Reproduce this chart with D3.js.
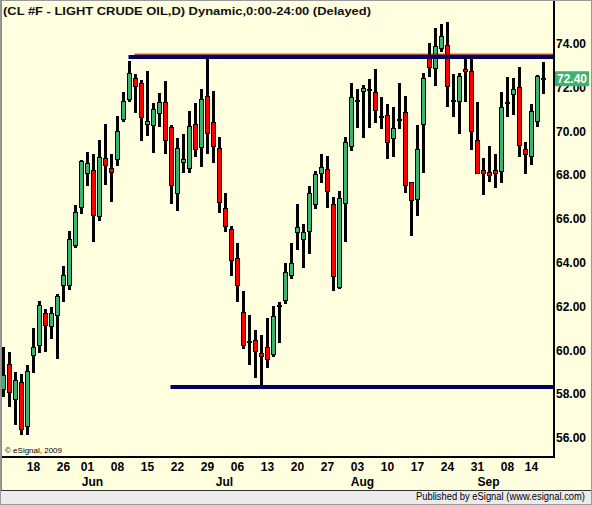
<!DOCTYPE html>
<html>
<head>
<meta charset="utf-8">
<script src="https://cdn.jsdelivr.net/npm/d3@7"></script>
<style>
  html, body { margin: 0; padding: 0; background: #fff; }
  svg { display: block; }
  text { font-family: "Liberation Sans", Arial, sans-serif; }
</style>
</head>
<body>
<svg id="chart" width="592" height="505"></svg>
<script>
// daily bars, CL #F, May 11 - Sep 16 2009
const dates = [
  "2009-05-11","2009-05-12","2009-05-13","2009-05-14","2009-05-15",
  "2009-05-18","2009-05-19","2009-05-20","2009-05-21","2009-05-22",
  "2009-05-26","2009-05-27","2009-05-28","2009-05-29",
  "2009-06-01","2009-06-02","2009-06-03","2009-06-04","2009-06-05",
  "2009-06-08","2009-06-09","2009-06-10","2009-06-11","2009-06-12",
  "2009-06-15","2009-06-16","2009-06-17","2009-06-18","2009-06-19",
  "2009-06-22","2009-06-23","2009-06-24","2009-06-25","2009-06-26",
  "2009-06-29","2009-06-30","2009-07-01","2009-07-02","2009-07-03",
  "2009-07-06","2009-07-07","2009-07-08","2009-07-09","2009-07-10",
  "2009-07-13","2009-07-14","2009-07-15","2009-07-16","2009-07-17",
  "2009-07-20","2009-07-21","2009-07-22","2009-07-23","2009-07-24",
  "2009-07-27","2009-07-28","2009-07-29","2009-07-30","2009-07-31",
  "2009-08-03","2009-08-04","2009-08-05","2009-08-06","2009-08-07",
  "2009-08-10","2009-08-11","2009-08-12","2009-08-13","2009-08-14",
  "2009-08-17","2009-08-18","2009-08-19","2009-08-20","2009-08-21",
  "2009-08-24","2009-08-25","2009-08-26","2009-08-27","2009-08-28",
  "2009-08-31","2009-09-01","2009-09-02","2009-09-03","2009-09-04",
  "2009-09-08","2009-09-09","2009-09-10","2009-09-11",
  "2009-09-14","2009-09-15","2009-09-16"
];
const open = [
  58.19,59.33,57.76,58.55,56.54, 59.77,60.23,61.69,61.08,61.57,
  62.94,62.97,64.79,66.54, 68.08,68.21,66.12,68.74,68.32,
  68.72,70.52,71.47,72.42,72.19, 70.31,70.27,70.82,71.32,70.18,
  67.17,68.58,68.31,70.32,69.27, 71.59,70.41,69.22,66.48,65.53,
  64.20,61.74,60.42,60.46,59.86, 60.14,59.82,62.03,62.27,63.42,
  65.39,65.08,65.42,66.66,68.08, 68.27,66.67,62.89,66.69,69.30,
  71.40,71.81,71.91,71.77,70.66, 70.74,69.68,70.53,70.88,67.67,
  66.88,70.29,73.32,72.88,73.79, 73.94,71.41,71.38,72.83,72.75,
  69.56,68.19,68.13,68.20,68.16, 71.33,71.66,72.02,69.15,
  68.84,70.44,72.41
];
const high = [
  60.14,59.92,59.01,58.92,59.33, 61.02,62.25,61.90,61.98,62.56,
  63.85,65.45,66.63,68.69, 69.05,68.96,69.60,70.33,68.96,
  70.70,71.79,73.19,72.62,72.34, 72.75,71.29,71.75,72.30,70.29,
  69.69,69.88,70.93,71.29,71.93, 73.37,71.84,69.73,67.18,65.68,
  64.90,62.71,61.61,60.93,60.70, 61.46,62.02,62.21,63.97,64.89,
  66.67,65.75,67.48,68.19,68.96, 68.87,66.99,67.27,69.73,72.21,
  71.91,72.10,72.39,72.84,71.57, 71.25,71.11,72.19,71.61,67.70,
  70.29,72.65,74.02,74.70,74.90, 75.00,72.62,72.65,73.33,73.33,
  71.32,68.77,69.34,68.95,71.78, 72.49,72.45,72.92,69.50,
  71.23,72.57,73.15
];
const low = [
  57.85,57.42,56.60,56.12,56.15, 58.98,59.89,59.92,60.53,59.59,
  62.21,62.75,64.68,66.24, 67.52,64.96,65.92,67.56,66.79,
  68.42,70.44,71.32,70.82,69.57, 69.80,69.02,70.21,68.95,66.68,
  66.37,68.08,68.11,68.84,68.38, 68.95,68.54,66.29,65.42,63.41,
  62.22,60.05,59.32,58.75,58.36, 59.18,59.68,60.33,62.10,63.24,
  64.58,63.77,64.41,66.47,67.63, 66.51,62.72,62.79,64.96,69.11,
  70.16,69.71,70.16,70.39,70.10, 68.72,68.84,70.09,67.17,65.23,
  66.15,68.08,72.49,72.05,73.60, 71.12,70.67,69.86,71.35,69.15,
  68.04,67.09,67.70,67.42,67.63, 70.67,70.74,68.84,68.04,
  68.46,70.21,71.70
];
const close = [
  58.87,58.08,58.63,56.39,59.04, 60.11,62.05,61.11,61.69,62.47,
  63.42,65.07,66.30,68.60, 68.54,66.16,68.81,68.45,68.13,
  70.01,71.34,72.65,72.05,70.62, 70.47,71.00,71.32,69.59,67.53,
  69.22,68.69,70.23,69.18,71.46, 69.91,69.32,66.76,65.64,64.11,
  62.95,60.20,60.40,59.94,59.72, 59.59,61.55,62.05,63.56,63.97,
  65.63,65.39,67.17,68.04,68.36, 67.25,63.36,66.95,69.47,71.55,
  71.42,71.97,71.89,70.96,70.62, 69.50,70.14,70.51,67.53,66.82,
  69.19,72.39,72.91,73.88,74.35, 72.05,71.39,72.49,72.74,69.98,
  68.08,68.08,68.00,68.08,71.08, 71.31,71.93,69.33,68.92,
  70.89,72.49,72.40
];

const yTicks = [56, 58, 60, 62, 64, 66, 68, 70, 72, 74];
const dateTicks = ["2009-05-18","2009-05-26","2009-06-01","2009-06-08","2009-06-15",
  "2009-06-22","2009-06-29","2009-07-06","2009-07-13","2009-07-20","2009-07-27",
  "2009-08-03","2009-08-10","2009-08-17","2009-08-24","2009-08-31","2009-09-08","2009-09-14"];
const dateTickLabels = ["18","26","01","08","15","22","29","06","13","20","27",
  "03","10","17","24","31","08","14"];
const monthTicks = ["2009-06-01","2009-07-01","2009-08-03","2009-09-01"];
const monthLabels = ["Jun","Jul","Aug","Sep"];

// drawn horizontal levels
const levelValues = [73.39, 73.52, 58.32];
const levelStart = ["2009-06-10", "2009-06-11", "2009-06-19"];
const lastPrice = 72.40;

const title = "(CL #F - LIGHT CRUDE OIL,D) Dynamic,0:00-24:00 (Delayed)";

const W = 592, H = 505;
const plot = {left: 2, right: 554, top: 0, bottom: 457};

const svg = d3.select("#chart");

const x = d3.scaleBand().domain(dates).range([0.5, 546.5]).padding(0);
const cx = d => x(d) + x.bandwidth() / 2;
const y = d3.scaleLinear().domain([56, 74]).range([437.9, 43.7]);

const bars = dates.map((d, i) => ({date: d, o: open[i], h: high[i], l: low[i], c: close[i]}));

// background
svg.append("rect").attr("width", W).attr("height", H).attr("fill", "#ffffe0");

svg.append("clipPath").attr("id", "plotclip")
  .append("rect")
  .attr("x", plot.left).attr("y", plot.top)
  .attr("width", plot.right - plot.left).attr("height", plot.bottom - plot.top);

const g = svg.append("g").attr("clip-path", "url(#plotclip)");

// wicks
g.append("g").attr("shape-rendering", "crispEdges")
  .selectAll("rect")
  .data(bars)
  .join("rect")
    .attr("x", d => cx(d.date) - 1.5)
    .attr("width", 3)
    .attr("y", d => y(d.h))
    .attr("height", d => y(d.l) - y(d.h))
    .attr("fill", "#000");

// bodies
g.append("g").attr("shape-rendering", "crispEdges")
  .selectAll("rect")
  .data(bars)
  .join("rect")
    .attr("x", d => cx(d.date) - 2)
    .attr("width", 4)
    .attr("y", d => y(Math.max(d.o, d.c)))
    .attr("height", d => Math.max(1, Math.abs(y(d.o) - y(d.c))))
    .attr("fill", d => d.c >= d.o ? "#3cb371" : "#ff0000")
    .attr("stroke", "#000")
    .attr("stroke-width", 1);

// levels
const levelColor = ["#00005e", "#8b0000", "#00005e"];
const levelWidth = [4, 1, 4];
levelValues.forEach((v, i) => {
  g.append("line")
    .attr("x1", cx(levelStart[i]) - 1)
    .attr("x2", plot.right)
    .attr("y1", y(v)).attr("y2", y(v))
    .attr("stroke", levelColor[i])
    .attr("stroke-width", levelWidth[i]);
});

// frame lines
svg.append("line")
  .attr("x1", plot.left).attr("x2", plot.right + 1)
  .attr("y1", plot.bottom).attr("y2", plot.bottom)
  .attr("stroke", "#000").attr("stroke-width", 2);
svg.append("line")
  .attr("x1", plot.right).attr("x2", plot.right)
  .attr("y1", 0).attr("y2", plot.bottom)
  .attr("stroke", "#000").attr("stroke-width", 2);

// price axis
const yAxis = svg.append("g")
  .attr("transform", `translate(${plot.right},0)`)
  .call(d3.axisRight(y).tickValues(yTicks).tickFormat(d3.format(".2f")).tickSize(0).tickPadding(2));
yAxis.select(".domain").remove();
yAxis.selectAll("text")
  .attr("font-family", "'Liberation Sans', Arial, sans-serif")
  .attr("font-size", 12).attr("font-weight", "bold").attr("fill", "#000");

// last price marker
const lp = svg.append("g").attr("transform", `translate(${plot.right + 1},${y(lastPrice)})`);
lp.append("rect").attr("x", 0).attr("y", -7.5).attr("width", 34).attr("height", 15).attr("fill", "#3cb371");
lp.append("text").attr("x", 2).attr("dy", "0.36em")
  .attr("font-size", 12).attr("font-weight", "bold").attr("fill", "#fff")
  .text(d3.format(".2f")(lastPrice));

// date axis
const xAxis = svg.append("g")
  .attr("transform", `translate(0,${plot.bottom})`)
  .call(d3.axisBottom(x).tickValues(dateTicks)
    .tickFormat((d, i) => dateTickLabels[i]).tickSize(0).tickPadding(5));
xAxis.select(".domain").remove();
xAxis.selectAll("text")
  .attr("font-family", "'Liberation Sans', Arial, sans-serif")
  .attr("font-size", 12).attr("font-weight", "bold").attr("fill", "#000");

svg.append("g").selectAll("text")
  .data(monthTicks)
  .join("text")
    .attr("x", d => cx(d) + 5)
    .attr("y", 486)
    .attr("text-anchor", "middle")
    .attr("font-size", 12).attr("font-weight", "bold")
    .text((d, i) => monthLabels[i]);

// title
svg.append("text")
  .attr("x", 3).attr("y", 15)
  .attr("font-family", "'DejaVu Sans', sans-serif")
  .attr("font-size", 11.5).attr("font-weight", "bold").attr("fill", "#111")
  .attr("textLength", 368).attr("lengthAdjust", "spacingAndGlyphs")
  .text(title);

svg.append("text")
  .attr("x", 5).attr("y", 453)
  .attr("font-size", 8).attr("fill", "#000")
  .attr("textLength", 57).attr("lengthAdjust", "spacingAndGlyphs")
  .text("\u00a9 eSignal, 2009");

// status bar
svg.append("rect").attr("x", 0).attr("y", 491).attr("width", W).attr("height", 14).attr("fill", "#ebebeb");
svg.append("line").attr("x1", 0).attr("x2", W).attr("y1", 490.5).attr("y2", 490.5).attr("stroke", "#333");
svg.append("text")
  .attr("x", 585).attr("y", 500)
  .attr("text-anchor", "end")
  .attr("font-size", 10.5).attr("fill", "#000")
  .attr("textLength", 169).attr("lengthAdjust", "spacingAndGlyphs")
  .text("Published by eSignal (www.esignal.com)");

// outer frame
svg.append("rect")
  .attr("x", 0.5).attr("y", 0.5).attr("width", W - 1).attr("height", H - 1)
  .attr("fill", "none").attr("stroke", "#999");
svg.append("line").attr("x1", 1.5).attr("x2", 1.5).attr("y1", 0).attr("y2", 490)
  .attr("stroke", "#888");
</script>
</body>
</html>
